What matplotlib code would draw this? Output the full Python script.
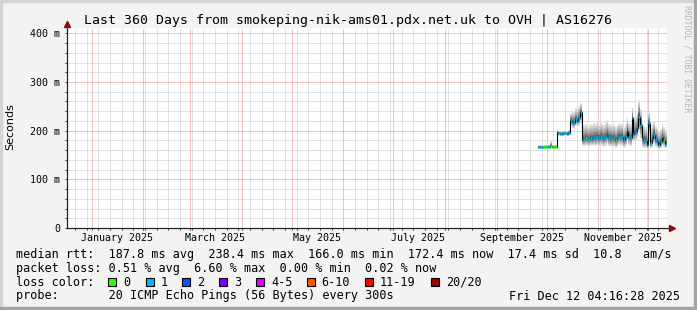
#smokeping style latency graph, last 360 days
import matplotlib
matplotlib.use('Agg')
import matplotlib.pyplot as plt
import matplotlib.dates as mdates
from matplotlib.patches import Rectangle
from matplotlib.ticker import MultipleLocator, NullFormatter
import numpy as np
import pandas as pd
from datetime import datetime

#data, one value per day starting 2025-09-26 (ms)
first_day = '2025-09-26'
median_ms = [167, 167, 166, 167, 167, 166, 167, 168, 167, 167, 167,
             197, 195, 194, 194, 195, 195, 194, 196,
             222, 218, 216, 224, 220, 226, 238,
             181, 182, 184, 183, 182, 184, 183, 185,
             186, 188, 185, 187, 186, 184, 187,
             192, 186, 185, 184, 185, 180, 184, 188, 187, 188, 180, 186, 200,
             188, 185, 226, 195, 198, 205, 229, 212, 184, 180, 180, 171, 215,
             174, 182, 192, 182, 178, 171, 176, 188, 180, 172]
smoke_lo = [164, 164, 163, 164, 164, 163, 164, 164, 164, 164, 164,
            190, 190, 189, 190, 190, 190, 189, 190,
            208, 205, 204, 210, 207, 210, 214,
            170, 168, 170, 169, 168, 170, 169, 170,
            168, 170, 167, 169, 168, 167, 169,
            172, 168, 166, 166, 167, 165, 167, 170, 169, 170, 165, 168, 178,
            170, 168, 195, 178, 180, 185, 198, 182, 166, 164, 165, 162, 190,
            164, 166, 172, 166, 165, 162, 164, 170, 166, 164]
smoke_hi = [170, 170, 169, 170, 171, 170, 171, 178, 171, 170, 171,
            201, 199, 198, 199, 200, 199, 198, 201,
            236, 238, 240, 246, 242, 250, 256,
            210, 212, 214, 212, 210, 214, 212, 215,
            214, 218, 212, 216, 214, 212, 217,
            222, 214, 212, 210, 213, 208, 212, 215, 214, 216, 208, 214, 226,
            216, 214, 248, 228, 232, 240, 263, 245, 214, 210, 208, 200, 238,
            206, 212, 220, 210, 206, 200, 204, 214, 208, 202]
#loss bucket per day (0 = no loss, 1 = one lost ping, 2 = two lost)
loss_bucket = [1, 1, 1, 0, 0, 0, 1, 0, 0, 0, 0,
               1, 1, 1, 1, 1, 1, 1, 1,
               1, 1, 1, 1, 1, 1, 1,
               1, 1, 0, 1, 1, 1, 1, 1,
               1, 1, 1, 1, 1, 1, 1,
               1, 1, 1, 1, 1, 0, 1, 1, 1, 1, 1, 1, 1,
               1, 1, 1, 2, 1, 1, 1, 1, 1, 1, 1, 1, 1,
               1, 1, 1, 1, 1, 1, 1, 1, 0, 1]

loss_labels = ['0', '1', '2', '3', '4-5', '6-10', '11-19', '20/20']
loss_colors = ['#26ff00', '#00b8ff', '#0059ff', '#7e00ff', '#dd00ff', '#ff5500', '#ff0000', '#a10000']

y_ticks = [0, 100, 200, 300, 400]
y_tick_labels = ['0', '100 m', '200 m', '300 m', '400 m']
month_labels = ['January 2025', 'March 2025', 'May 2025', 'July 2025', 'September 2025', 'November 2025']
month_label_dates = [datetime(2025, m, 16) for m in [1, 3, 5, 7, 9, 11]]

title = 'Last 360 Days from smokeping-nik-ams01.pdx.net.uk to OVH | AS16276'
legend_rtt = 'median rtt:  187.8 ms avg  238.4 ms max  166.0 ms min  172.4 ms now  17.4 ms sd  10.8   am/s'
legend_loss = 'packet loss: 0.51 % avg  6.60 % max  0.00 % min  0.02 % now'
legend_probe = 'probe:       20 ICMP Echo Pings (56 Bytes) every 300s'
stamp = 'Fri Dec 12 04:16:28 2025'

t_start = datetime(2024, 12, 17, 4, 16, 28)
t_end = datetime(2025, 12, 12, 4, 16, 28)

W, H = 697, 310
mono = 'DejaVu Sans Mono'
leg_fs = 8.44

def fx(x):
    return x / W

def fy(y):
    return 1 - y / H

fig = plt.figure(figsize=(W / 100, H / 100), dpi=100)
fig.patch.set_facecolor('#f3f3f3')

#3d-ish frame round the image
fig.patches.append(Rectangle((0, 1 - 2 / H), 1, 2 / H, transform=fig.transFigure, color='#d4d4d4', zorder=0))
fig.patches.append(Rectangle((0, 0), 2 / W, 1, transform=fig.transFigure, color='#d4d4d4', zorder=0))
fig.patches.append(Rectangle((0, 0), 1, 3 / H, transform=fig.transFigure, color='#a4a4a4', zorder=0))
fig.patches.append(Rectangle((1 - 3 / W, 0), 3 / W, 1, transform=fig.transFigure, color='#a4a4a4', zorder=0))

ax = fig.add_axes([fx(67), fy(228), 600 / W, 200 / H])
ax.set_facecolor('white')
ax.set_xlim(t_start, t_end)
ax.set_ylim(0, 411)

days = pd.date_range(first_day, periods=len(median_ms), freq='D')
edges = list(days) + [t_end]
med = np.array(median_ms, dtype=float)
lo = np.array(smoke_lo, dtype=float)
hi = np.array(smoke_hi, dtype=float)

#smoke: lighter further away from the median
n_layers = 10
for k in range(n_layers, 0, -1):
    frac = k / n_layers
    lower = med - (med - lo) * frac
    upper = med + (hi - med) * frac
    g = 0.1 + 0.8 * frac ** 0.6
    ax.fill_between(edges, np.append(lower, lower[-1]), np.append(upper, upper[-1]),
                    step='post', color=(g, g, g), lw=0, zorder=2)

#median line, coloured by packet loss
ax.step(edges, np.append(med, med[-1]), where='post', color='black', lw=0.8, zorder=3)
ax.hlines(med, days, days + pd.Timedelta(days=1), colors=[loss_colors[b] for b in loss_bucket],
          lw=1.8, zorder=4)

#grid
ax.xaxis.set_major_locator(mdates.MonthLocator())
ax.xaxis.set_minor_locator(mdates.WeekdayLocator(byweekday=mdates.SU))
ax.xaxis.set_major_formatter(NullFormatter())
ax.yaxis.set_major_locator(MultipleLocator(100))
ax.yaxis.set_minor_locator(MultipleLocator(20))
ax.grid(which='minor', color='#c4c4c4', ls=(0, (1, 1)), lw=0.72, snap=True)
ax.grid(which='major', color='#f08484', ls=(0, (1, 1)), lw=0.72, snap=True)
ax.set_axisbelow(True)

ax.set_yticks(y_ticks)
ax.set_yticklabels(y_tick_labels, family=mono, fontsize=7.2)
ax.tick_params(axis='both', which='both', direction='out', length=1.5, width=0.7, color='#333333')
ax.tick_params(axis='y', pad=3.6)

for s in ['top', 'right']:
    ax.spines[s].set_visible(False)
for s in ['left', 'bottom']:
    ax.spines[s].set_linewidth(0.8)
    ax.spines[s].set_color('#222222')

#axis arrows
ax.plot([0, 1.006], [0, 0], transform=ax.transAxes, clip_on=False, color='#222222', lw=0.8, zorder=5)
ax.plot([0, 0], [0, 1.02], transform=ax.transAxes, clip_on=False, color='#222222', lw=0.8, zorder=5)
ax.plot([1.008], [0], marker='>', transform=ax.transAxes, clip_on=False, color='#8b0a0a', ms=4, zorder=6)
ax.plot([0], [1.02], marker='^', transform=ax.transAxes, clip_on=False, color='#8b0a0a', ms=4, zorder=6)

for d, lab in zip(month_label_dates, month_labels):
    ax.text(d, -0.065, lab, transform=ax.get_xaxis_transform(), ha='center', va='baseline',
            family=mono, fontsize=7.2)

fig.text(fx(10), fy(127), 'Seconds', rotation=90, ha='center', va='center', family='DejaVu Sans', fontsize=8)
fig.text(fx(348.5), fy(24), title, ha='center', va='baseline', family=mono, fontsize=9.55)
fig.text(fx(687.5), fy(5), 'RRDTOOL / TOBI OETIKER', rotation=-90, ha='center', va='top',
         family=mono, fontsize=5.9, color='#b4b4b4')

#legend block
fig.text(fx(16), fy(257.7), legend_rtt, family=mono, fontsize=leg_fs, va='baseline')
fig.text(fx(16), fy(271.7), legend_loss, family=mono, fontsize=leg_fs, va='baseline')
fig.text(fx(16), fy(285.5), 'loss color:', family=mono, fontsize=leg_fs, va='baseline')
fig.text(fx(16), fy(299.5), legend_probe, family=mono, fontsize=leg_fs, va='baseline')
fig.text(fx(680), fy(299.5), stamp, family=mono, fontsize=leg_fs, va='baseline', ha='right')

box_x = [108.3, 145.7, 182.3, 219, 256, 306.7, 365, 431]
for bx, lab, col in zip(box_x, loss_labels, loss_colors):
    fig.patches.append(Rectangle((fx(bx), fy(286)), 8 / W, 8.5 / H, transform=fig.transFigure,
                                 facecolor=col, edgecolor='black', lw=0.8))
    fig.text(fx(bx + 15), fy(285.5), lab, family=mono, fontsize=leg_fs, va='baseline')

fig.savefig('out.png', dpi=100, facecolor=fig.get_facecolor())
